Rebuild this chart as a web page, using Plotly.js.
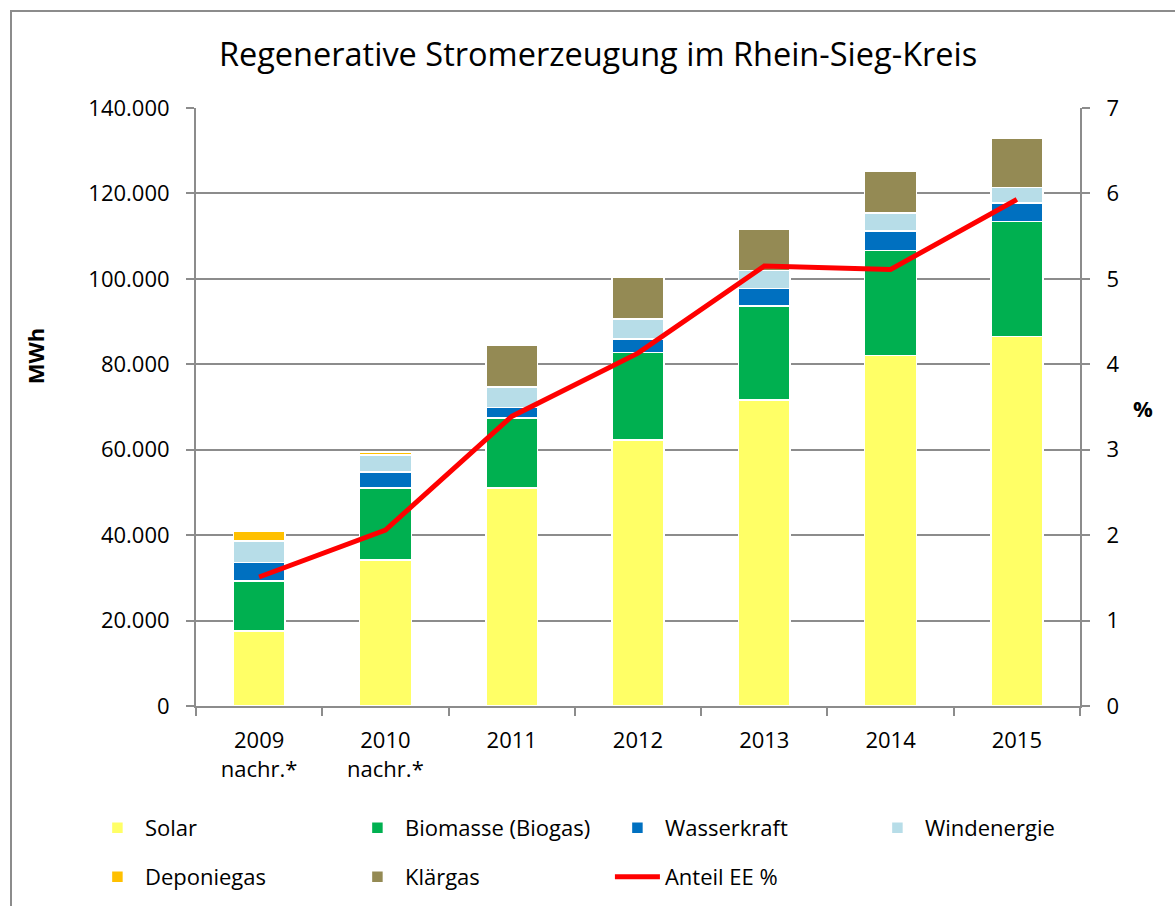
<!DOCTYPE html>
<html>
<head>
<meta charset="utf-8">
<script src="https://cdn.plot.ly/plotly-3.0.1.min.js"></script>
<style>
  body { margin: 0; background: #fff; overflow: hidden; }
  #frame {
    position: absolute; left: 10px; top: 10px;
    width: 1300px; height: 1000px;
    border: 2px solid #8c8c8c;
  }
  #chart { position: absolute; left: 0; top: 0; width: 1175px; height: 906px; }
</style>
</head>
<body>
<div id="frame"></div>
<div id="chart"></div>
<script>
// Data (MWh)

const years = ["2009<br>nachr.*", "2010<br>nachr.*", "2011", "2012", "2013", "2014", "2015"];

const solar = [17600, 34200, 51000, 62300, 71600, 82000, 86500];
const biomasse = [11700, 16800, 16400, 20500, 22100, 24600, 26900];
const wasserkraft = [4300, 3800, 2500, 3100, 4100, 4600, 4400];
const windenergie = [5000, 4000, 4800, 4700, 4200, 4200, 3600];
const deponiegas = [2400, 600, 0, 0, 0, 0, 0];
const klaergas = [0, 0, 9800, 9800, 9700, 9900, 11600];

// Anteil EE in %
const anteilEE = [1.51, 2.06, 3.39, 4.13, 5.15, 5.11, 5.93];

const yTicks = [0, 20000, 40000, 60000, 80000, 100000, 120000, 140000];
const yTickText = ["0", "20.000", "40.000", "60.000", "80.000", "100.000", "120.000", "140.000"];

// Styles

const FONT = "Open Sans, Liberation Sans, sans-serif";
const GRID = "#8c8c8c";

// legend row 1 = "legend", row 2 = "legend2"
const barTrace = function (name, values, color, legend) {
  return {
    type: "bar",
    name: name,
    x: years,
    y: values,
    legend: legend,
    marker: { color: color, line: { color: "#ffffff", width: 1.5 } },
    hoverinfo: "skip",
  };
};

const data = [
  barTrace("Solar", solar, "#FFFF66", "legend"),
  barTrace("Biomasse (Biogas)", biomasse, "#00B050", "legend"),
  barTrace("Wasserkraft", wasserkraft, "#0070C0", "legend"),
  barTrace("Windenergie", windenergie, "#B7DDE8", "legend"),
  barTrace("Deponiegas", deponiegas, "#FFC000", "legend2"),
  barTrace("Klärgas", klaergas, "#948A54", "legend2"),
  {
    type: "scatter",
    mode: "lines",
    name: "Anteil EE %",
    x: years,
    y: anteilEE,
    yaxis: "y2",
    legend: "legend2",
    line: { color: "#FF0000", width: 5 },
    hoverinfo: "skip",
  },
];

const legendRow = function (y) {
  return {
    orientation: "h",
    x: -0.12,
    xanchor: "left",
    y: y,
    yanchor: "middle",
    itemwidth: 45,
    entrywidth: 200,
    entrywidthmode: "pixels",
    traceorder: "normal",
    font: { size: 22, family: FONT },
  };
};

const layout = {
  width: 1175,
  height: 906,
  paper_bgcolor: "rgba(0,0,0,0)",
  plot_bgcolor: "rgba(0,0,0,0)",
  font: { family: FONT, color: "#000", size: 21 },
  margin: { l: 196, r: 95, t: 108, b: 200, autoexpand: false },
  title: {
    text: "Regenerative Stromerzeugung im Rhein-Sieg-Kreis",
    font: { size: 32.5, family: FONT },
    x: 0.509,
    xanchor: "center",
    y: 0.94,
    yanchor: "middle",
  },
  barmode: "stack",
  bargap: 0.59,
  showlegend: true,
  legend: legendRow(-0.204),
  legend2: legendRow(-0.286),
  xaxis: {
    type: "category",
    showline: true,
    linecolor: GRID,
    linewidth: 2,
    ticks: "outside",
    tickson: "boundaries",
    ticklen: 8,
    tickcolor: GRID,
    tickwidth: 2,
    ticklabelstandoff: 14,
    tickfont: { size: 22 },
    fixedrange: true,
  },
  yaxis: {
    range: [0, 140000],
    tickvals: yTicks,
    ticktext: yTickText,
    showgrid: true,
    gridcolor: GRID,
    gridwidth: 2,
    showline: true,
    linecolor: GRID,
    linewidth: 2,
    ticks: "outside",
    ticklen: 8,
    tickcolor: GRID,
    tickwidth: 2,
    ticklabelstandoff: 12,
    tickfont: { size: 22 },
    zeroline: false,
    fixedrange: true,
  },
  yaxis2: {
    overlaying: "y",
    side: "right",
    range: [0, 7],
    dtick: 1,
    showgrid: false,
    showline: true,
    linecolor: GRID,
    linewidth: 2,
    ticks: "outside",
    ticklen: 8,
    tickcolor: GRID,
    tickwidth: 2,
    ticklabelstandoff: 12,
    tickfont: { size: 22 },
    zeroline: false,
    fixedrange: true,
  },
  annotations: [
    {
      text: "<b>MWh</b>",
      xref: "paper",
      yref: "paper",
      x: -0.182,
      xanchor: "center",
      y: 0.585,
      yanchor: "middle",
      textangle: -90,
      showarrow: false,
      font: { size: 22 },
    },
    {
      text: "<b>%</b>",
      xref: "paper",
      yref: "paper",
      x: 1.071,
      xanchor: "center",
      y: 0.498,
      yanchor: "middle",
      showarrow: false,
      font: { size: 22 },
    },
  ],
};

Plotly.newPlot("chart", data, layout, { displayModeBar: false, staticPlot: true });
</script>
</body>
</html>
